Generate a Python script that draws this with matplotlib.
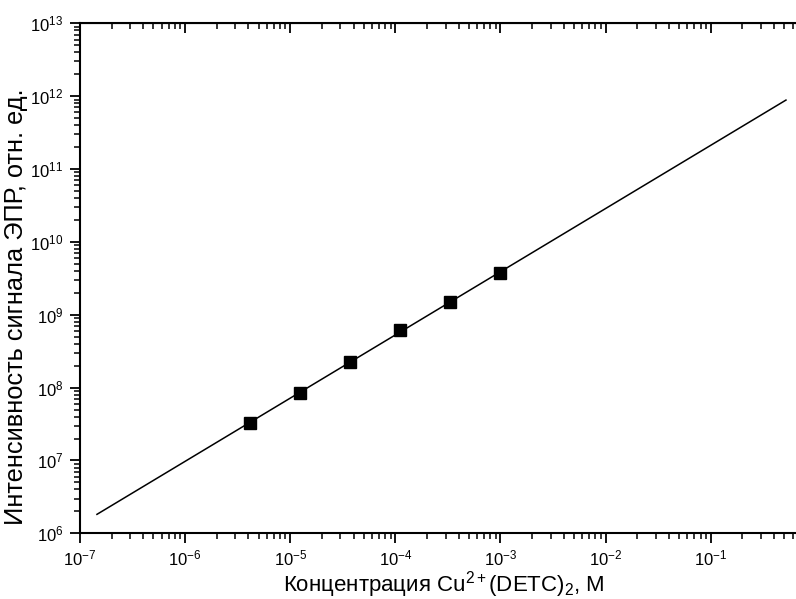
import numpy as np
import matplotlib
matplotlib.use("Agg")
import matplotlib.pyplot as plt

plt.rcParams['font.family'] = ['Liberation Sans', 'DejaVu Sans']
plt.rcParams['mathtext.fontset'] = 'custom'
plt.rcParams['mathtext.rm'] = 'Liberation Sans'
plt.rcParams['mathtext.it'] = 'Liberation Sans'
plt.rcParams['mathtext.default'] = 'regular'
plt.rcParams['axes.unicode_minus'] = False

# measured points
conc = [4.1e-6, 1.23e-5, 3.7e-5, 1.11e-4, 3.33e-4, 1.0e-3]
signal = [3.25e7, 8.3e7, 2.25e8, 6.1e8, 1.52e9, 3.7e9]

# linear fit in log-log (end points)
fit_x = [1.45e-7, 0.52]
fit_y = [1.82e6, 8.85e11]

fig = plt.figure(figsize=(7.96, 5.99), dpi=100)
ax = fig.add_axes([0.1005, 0.1097, 0.9244, 0.8513])

ax.plot(fit_x, fit_y, color='black', linewidth=1.1)
ax.plot(conc, signal, 's', color='black', markersize=8)

ax.set_xscale('log')
ax.set_yscale('log')
ax.set_xlim(1e-7, 1e0)
ax.set_ylim(1e6, 1e13)

ax.set_xticks([10.0**k for k in range(-7, 0)])
ax.set_yticks([10.0**k for k in range(6, 14)])
ax.xaxis.set_minor_locator(matplotlib.ticker.LogLocator(base=10, subs=np.arange(2, 10), numticks=20))
ax.yaxis.set_minor_locator(matplotlib.ticker.LogLocator(base=10, subs=np.arange(2, 10), numticks=20))
ax.yaxis.set_minor_formatter(matplotlib.ticker.NullFormatter())
ax.xaxis.set_minor_formatter(matplotlib.ticker.NullFormatter())

for s in ax.spines.values():
    s.set_linewidth(1.5)

ax.tick_params(which='major', direction='out', length=7, width=1.3, labelsize=12)
ax.tick_params(axis='x', which='major', pad=4)
ax.tick_params(axis='y', which='major', pad=5)
ax.tick_params(which='minor', direction='out', length=4, width=1.1)

# mirrored axes with inward ticks
top = ax.secondary_xaxis('top')
top.set_xticks([10.0**k for k in range(-7, 1)])
top.xaxis.set_minor_locator(matplotlib.ticker.LogLocator(base=10, subs=np.arange(2, 10), numticks=20))
top.tick_params(which='major', direction='in', length=7, width=1.3, labeltop=False)
top.tick_params(which='minor', direction='in', length=4, width=1.1)
top.xaxis.set_minor_formatter(matplotlib.ticker.NullFormatter())
right = ax.secondary_yaxis('right')
right.tick_params(which='both', direction='in', labelright=False)

# axis titles placed as in the original
fig.text(444 / 796, 1 - 591 / 599, r'Концентрация Cu$^{2+}$(DETC)$_2$, M',
         fontsize=16, ha='center', va='baseline')
fig.text(23 / 796, 1 - 307 / 599, 'Интенсивность сигнала ЭПР, отн. ед.',
         fontsize=18.3, rotation=90, rotation_mode='anchor', ha='center', va='baseline')

fig.savefig('out.png', dpi=100)
